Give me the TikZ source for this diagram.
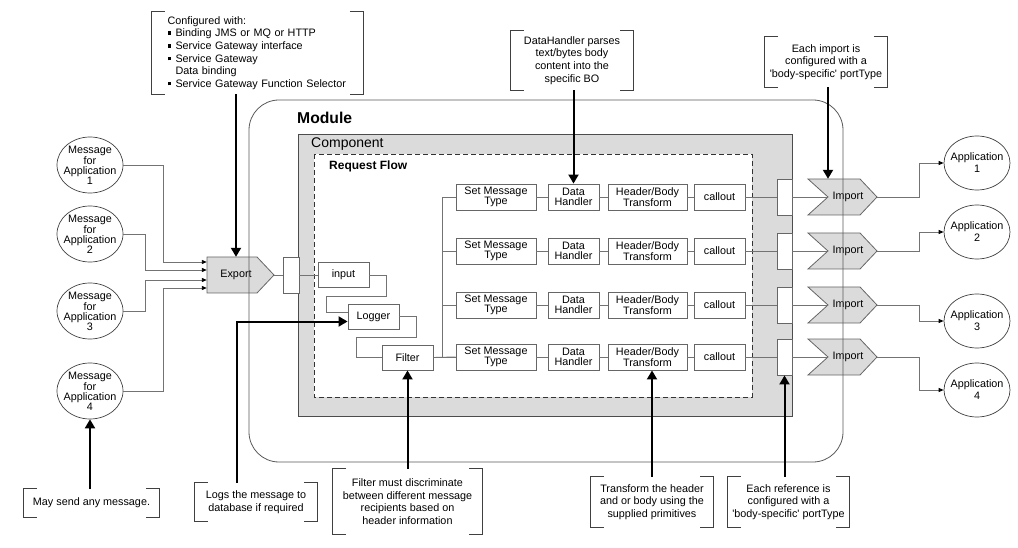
\documentclass[tikz,border=0pt]{standalone}
\usepackage{fontspec}
\setmainfont{Liberation Sans}
\usetikzlibrary{
  arrows.meta,
  positioning,
  shapes.geometric,
  calc
}
\definecolor{panelGray}{rgb}{0.86,0.86,0.86}
\definecolor{edgeGray}{rgb}{0.4,0.4,0.4}
\definecolor{wireGray}{rgb}{0.45,0.45,0.45}
\newcommand{\smallfont}{\fontsize{10.8}{10}\selectfont}
\newcommand{\notefont}{\fontsize{10.8}{12.6}\selectfont}
\newcommand{\bul}{\makebox[8pt][l]{\rule[1.8pt]{3.6pt}{3.6pt}}}
\newcommand{\bracketsfor}[1]{%
  \draw[bracket] ([xshift=13pt]#1.north west) -| (#1.south west) -- ++(13pt,0pt);
  \draw[bracket] ([xshift=-13pt]#1.north east) -| (#1.south east) -- ++(-13pt,0pt);
}
\tikzset{
  flowbox/.style={
    draw=edgeGray, fill=white, line width=0.9pt,
    inner sep=0pt, minimum height=26pt,
    align=center, font=\smallfont
  },
  portbox/.style={
    draw=edgeGray, fill=white, line width=0.9pt,
    inner sep=0pt, minimum width=15pt, minimum height=36pt
  },
  msg/.style={
    ellipse, draw=black!75, line width=0.7pt,
    inner xsep=-4pt, inner ysep=0pt,
    minimum width=66pt, minimum height=56pt,
    align=center, font=\smallfont
  },
  app/.style={msg, minimum height=54pt, font=\fontsize{10.8}{12}\selectfont},
  chevron/.style={fill=panelGray, draw=edgeGray, line width=0.8pt},
  wire/.style={draw=wireGray, line width=0.9pt},
  intip/.style={-{Triangle[length=5pt,width=4pt,color=black]}},
  note/.style={align=center, inner sep=0pt, font=\notefont},
  bracket/.style={draw=black!75, line width=0.8pt},
  pointer/.style={line width=2pt, -{Triangle[length=9pt,width=10pt]}}
}

\begin{document}
\begin{tikzpicture}[x=1pt,y=-1pt]
    \useasboundingbox (0,0) rectangle (1018,548);

    % component and request flow
    \draw[fill=panelGray, draw=black!70, line width=1pt] (298,135) rectangle (792,416);
    \draw[fill=white, draw=black!80, line width=0.8pt, dash pattern=on 5pt off 3pt]
      (314,154) rectangle (752,397);
    \node[anchor=west, inner sep=0pt, font=\bfseries\fontsize{15.7}{18}\selectfont] (modlabel) at (297,118) {Module};
    \node[anchor=west, inner sep=0pt, font=\fontsize{14}{16}\selectfont] (complabel) at (311,144) {Component};
    \node[anchor=west, inner sep=0pt, font=\bfseries\fontsize{12}{14}\selectfont] (flowlabel) at (329,166) {Request Flow};

    % export
    \draw[chevron] (207,257) -- (257,257) -- (274,275) -- (257,293) -- (207,293) -- cycle;
    \node[inner sep=0pt, minimum width=58pt, minimum height=36pt, font=\smallfont] (exp) at (236,275) {Export};
    \coordinate (exptip) at (274,275);
    \node[portbox, minimum width=16pt] (eport) at (291,275) {};

    % mediation flow
    \node[flowbox, minimum width=51pt, minimum height=25pt] (input) at (343.5,275) {input};
    \node[flowbox, minimum width=51pt, minimum height=25pt] (logger) at (373.5,316.5) {Logger};
    \node[flowbox, minimum width=51pt, minimum height=25pt] (filter) at (407.5,357.5) {Filter};
    \draw[wire] (exptip) -- (eport) (eport) -- (input);
    \draw[wire] (input.east) -- ++(17pt,0pt) -- ++(0pt,-21pt) -- ++(-60pt,0pt) |- ([yshift=4pt]logger.west);
    \draw[wire] (logger.east) -- ++(17pt,0pt) -- ++(0pt,-21pt) -- ++(-60pt,0pt) |- (filter.west);

    % imports
    \foreach \r/\y in {1/197,2/251,3/305,4/357} {
      \draw[chevron] (808,\y-18) -- (860,\y-18) -- (877,\y) -- (860,\y+18) -- (808,\y+18) -- (828,\y) -- cycle;
      \node[inner sep=0pt, minimum height=36pt, font=\smallfont] (imp\r) at (848,\y) {Import};
      \coordinate (impnotch\r) at (828,\y);
      \coordinate (imptip\r) at (877,\y);
    }

    % one branch per application
    \foreach \r/\y in {1/197,2/251,3/305,4/357} {
      \node[flowbox, minimum width=80pt] (smt\r) at (496,\y) {Set Message\\Type};
      \node[flowbox, minimum width=51pt] (dh\r) at (573.5,\y) {Data\\Handler};
      \node[flowbox, minimum width=79pt] (hb\r) at (647.5,\y) {Header/Body\\Transform};
      \node[flowbox, minimum width=51pt] (co\r) at (719.5,\y) {callout};
      \node[portbox] (ref\r) at (784.5,\y) {};
      \draw[wire] (smt\r) -- (dh\r) (dh\r) -- (hb\r) (hb\r) -- (co\r)
        (co\r) -- (ref\r) (ref\r) -- (impnotch\r);
    }
    \draw[wire] (filter.east) -- (smt4.west);
    \draw[wire] (smt1.west) -- ++(-13pt,0pt) |- (smt4.west);
    \draw[wire] (smt2.west) -- ++(-13pt,0pt);
    \draw[wire] (smt3.west) -- ++(-13pt,0pt);

    % senders
    \node[msg] (msg1) at (90,165) {Message\\for\\Application\\1};
    \node[msg] (msg2) at (90,234) {Message\\for\\Application\\2};
    \node[msg] (msg3) at (90,311) {Message\\for\\Application\\3};
    \node[msg] (msg4) at (90,391) {Message\\for\\Application\\4};
    \draw[wire, intip] (msg1.east) -- ++(40pt,0pt) |- ([yshift=13pt]exp.west);
    \draw[wire, intip] (msg2.east) -- ++(22pt,0pt) |- ([yshift=5pt]exp.west);
    \draw[wire, intip] (msg3.east) -- ++(22pt,0pt) |- ([yshift=-5pt]exp.west);
    \draw[wire, intip] (msg4.east) -- ++(40pt,0pt) |- ([yshift=-13pt]exp.west);

    % receivers
    \foreach \r/\y in {1/163,2/232,3/321,4/390} {
      \node[app] (app\r) at (977,\y) {Application\\\r};
      \draw[wire, intip] (imptip\r) -- ++(42pt,0pt) |- (app\r.west);
    }

    % module
    \draw[draw=black!65, line width=0.8pt, rounded corners=30pt] (249,100) rectangle (843,462);

    % notes
    \node[note, align=left, minimum width=211pt, minimum height=82pt, text width=180pt, inner xsep=15.5pt] (cfg) at (257.5,53)
      {Configured with:\\
       \bul Binding JMS or MQ or HTTP\\
       \bul Service Gateway interface\\
       \bul Service Gateway\\
       \hspace*{8pt}Data binding\\
       \bul Service Gateway Function Selector};
    \node[note, minimum width=122pt, minimum height=59pt] (dhnote) at (572,60.5)
      {DataHandler parses\\text/bytes body\\content into the\\specific BO};
    \node[note, minimum width=122pt, minimum height=50pt] (impnote) at (826,62)
      {Each import is\\configured with a\\\textquotesingle body-specific\textquotesingle\ portType};
    \node[note, minimum width=135pt, minimum height=28pt] (maynote) at (91.5,503)
      {May send any message.};
    \node[note, minimum width=122pt, minimum height=38pt] (lognote) at (256,502)
      {Logs the message to\\database if required};
    \node[note, minimum width=149pt, minimum height=65pt] (filtnote) at (407.5,501.5)
      {Filter must discriminate\\between different message\\recipients based on\\header information};
    \node[note, minimum width=122pt, minimum height=50pt] (trnote) at (652,502)
      {Transform the header\\and or body using the\\supplied primitives};
    \node[note, minimum width=121pt, minimum height=50pt] (refnote) at (788.5,502)
      {Each reference is\\configured with a\\\textquotesingle body-specific\textquotesingle\ portType};
    \bracketsfor{cfg}
    \bracketsfor{dhnote}
    \bracketsfor{impnote}
    \bracketsfor{maynote}
    \bracketsfor{lognote}
    \bracketsfor{filtnote}
    \bracketsfor{trnote}
    \bracketsfor{refnote}

    \draw[pointer] (exp.north |- cfg.south) -- (exp.north);
    \draw[pointer] (dh1.north |- dhnote.south) -- (dh1.north);
    \draw[pointer] (impnotch1 |- impnote.south) -- (impnotch1 |- imp1.north);
    \draw[pointer] (msg4.south |- maynote.north) -- (msg4.south);
    \draw[pointer] ([xshift=-19pt]lognote.north) |- ([yshift=-5pt]logger.west);
    \draw[pointer] (filter.south |- filtnote.north) -- (filter.south);
    \draw[pointer] (trnote.north) -- (trnote.north |- hb4.south);
    \draw[pointer] (ref4.south |- refnote.north) -- (ref4.south);
\end{tikzpicture}
\end{document}
